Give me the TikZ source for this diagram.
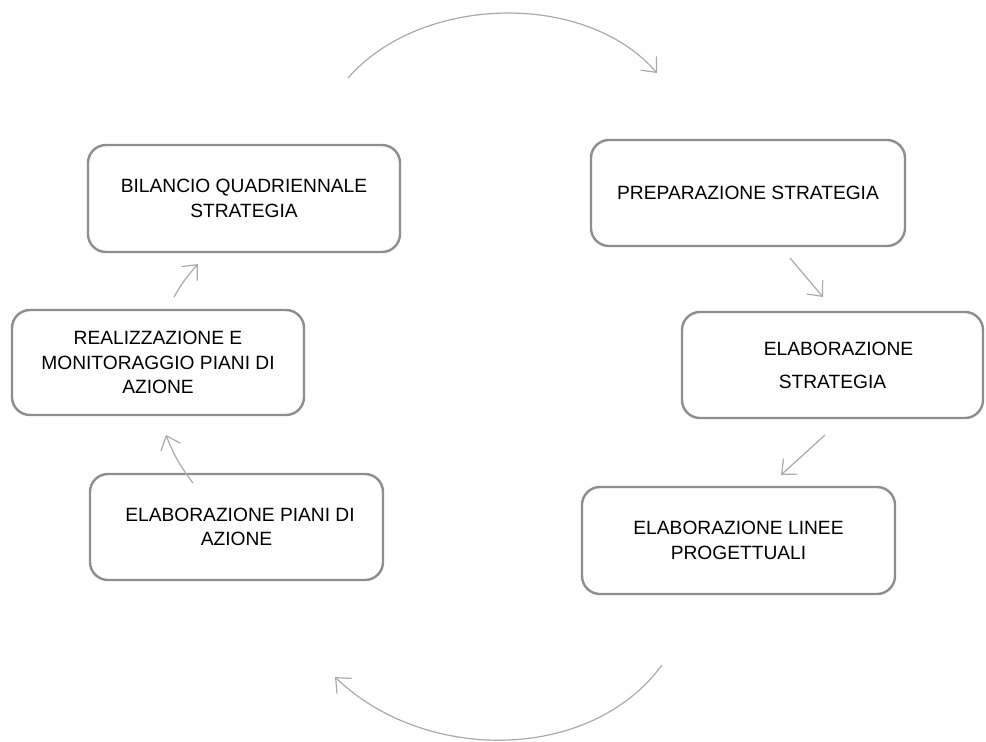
\documentclass[tikz,border=0pt]{standalone}
\usepackage{fontspec}
\setmainfont{Liberation Sans}
\usetikzlibrary{arrows.meta}
\definecolor{boxgray}{HTML}{8E8E8E}
\definecolor{arrowgray}{HTML}{AAAAAA}
\begin{document}
\begin{tikzpicture}[x=1pt,y=-1pt,
  stepbox/.style={draw=boxgray,line width=2.4pt,rounded corners=18pt,fill=white,
    inner sep=0pt,align=center,font=\fontsize{19.2}{24.5}\selectfont},
  flow/.style={draw=arrowgray,line width=1.2pt,
    -{Straight Barb[length=12pt,width=21pt,line width=1.2pt]}}]
\useasboundingbox (0,0) rectangle (986,742);

% process steps
\node[stepbox,minimum width=312pt,minimum height=107pt] (bil) at (244,198.5)
  {BILANCIO QUADRIENNALE\\STRATEGIA};
\node[stepbox,minimum width=314pt,minimum height=106pt] (prep) at (748,193)
  {PREPARAZIONE STRATEGIA};
\node[stepbox,minimum width=301pt,minimum height=106pt,
  font=\fontsize{19.2}{33}\selectfont] (elab) at (832.5,365)
  {\hspace*{12pt}ELABORAZIONE\\STRATEGIA};
\node[stepbox,minimum width=313pt,minimum height=107pt] (linee) at (738.5,540.5)
  {ELABORAZIONE LINEE\\PROGETTUALI};
\node[stepbox,minimum width=293pt,minimum height=106pt] (piani) at (236.5,527)
  {\hspace*{7pt}ELABORAZIONE PIANI DI\\AZIONE};
\node[stepbox,minimum width=292pt,minimum height=105pt] (real) at (158,362.5)
  {REALIZZAZIONE E\\MONITORAGGIO PIANI DI\\AZIONE};

% arrow end points
\coordinate (t1) at (348,78);   \coordinate (t2) at (657,73);
\coordinate (a1) at (790,258);  \coordinate (a2) at (823,297);
\coordinate (b1) at (825,435);  \coordinate (b2) at (781,475);
\coordinate (u1) at (662,665);  \coordinate (u2) at (335,677);
\coordinate (c1) at (193,483);  \coordinate (c2) at (166,435);
\coordinate (d1) at (174,297);  \coordinate (d2) at (198,264);

% cycle arrows
\draw[flow] (t1) .. controls (420,-5) and (585,-10) .. (t2);
\draw[flow] (a1) -- (a2);
\draw[flow] (b1) -- (b2);
\draw[flow] (u1) .. controls (590,763) and (424,763) .. (u2);
\draw[flow] (c1) to[bend left=8] (c2);
\draw[flow] (d1) to[bend left=6] (d2);
\end{tikzpicture}
\end{document}
